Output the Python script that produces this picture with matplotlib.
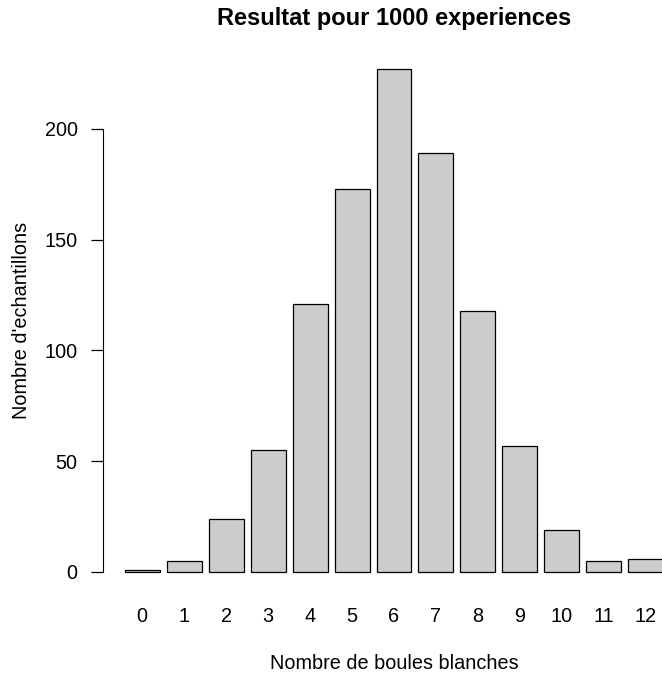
import numpy as np
import matplotlib
matplotlib.use("Agg")
import matplotlib.pyplot as plt

plt.rcParams["font.family"] = ["Liberation Sans", "DejaVu Sans"]

# Counts per number of white balls (1000 experiments)
categories = ["0", "1", "2", "3", "4", "5", "6", "7", "8", "9", "10", "11", "12"]
counts = [1, 5, 24, 55, 121, 173, 227, 189, 118, 57, 19, 5, 6]
yticks = [0, 50, 100, 150, 200]

# R barplot layout: width 1, space 0.2
x = 0.7 + 1.2 * np.arange(len(counts))
xmin, xmax = 0.2, x[-1] + 0.5
xpad = 0.04 * (xmax - xmin)
ypad = 0.04 * max(counts)

fig = plt.figure(figsize=(6.62, 6.73), dpi=100)
ax = fig.add_axes([103 / 662, 81 / 673, 582 / 662, 543 / 673])

ax.bar(x, counts, width=1.0, color="#cccccc", edgecolor="black", linewidth=0.9)
ax.set_xlim(xmin - xpad, xmax + xpad)
ax.set_ylim(-ypad, max(counts) + ypad)

for s in ["top", "right", "bottom"]:
    ax.spines[s].set_visible(False)
ax.spines["left"].set_bounds(0, 200)

ax.set_yticks(yticks)
ax.set_xticks(x)
ax.set_xticklabels(categories)
ax.tick_params(axis="y", length=8.3, width=0.9, pad=10, labelsize=14.3)
ax.tick_params(axis="x", length=0, pad=11, labelsize=14.3)

ax.set_title("Resultat pour 1000 experiences", fontsize=17, fontweight="bold", pad=17)
ax.set_xlabel("Nombre de boules blanches", fontsize=14.3, labelpad=20)
ax.set_ylabel("Nombre d'echantillons", fontsize=14.3, labelpad=10)

fig.savefig("out.png", dpi=100)
